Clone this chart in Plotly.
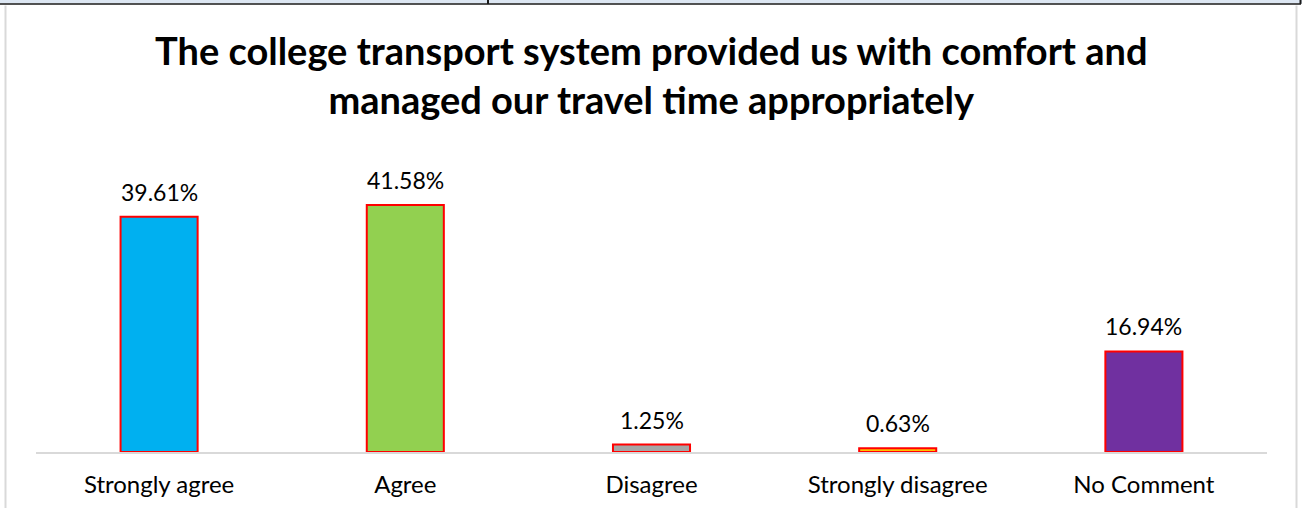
import plotly.graph_objects as go

categories = ["Strongly agree", "Agree", "Disagree", "Strongly disagree", "No Comment"]
values = [39.61, 41.58, 1.25, 0.63, 16.94]
labels = ["39.61%", "41.58%", "1.25%", "0.63%", "16.94%"]
colors = ["#00B0F0", "#92D050", "#A5A5A5", "#FFC000", "#7030A0"]
title_text = "<b>The college transport system provided us with comfort and<br>managed our travel time appropriately</b>"

W, H = 1302, 508
ML, MR, MT, MB = 36, 35, 155.4, 56
PW, PH = W - ML - MR, H - MT - MB

def px_x(p):
    return (p - ML) / PW

def px_y(p):
    return (H - MB - p) / PH

fig = go.Figure(go.Bar(
    x=categories, y=values,
    marker=dict(color=colors, line=dict(color="#FF0000", width=2)),
    cliponaxis=False,
    hoverinfo="skip",
))

shapes = [
    dict(type="rect", xref="paper", yref="paper", x0=px_x(0), x1=px_x(W), y0=px_y(4), y1=px_y(0),
         fillcolor="#DCE6F2", line=dict(width=0), layer="below"),
    dict(type="line", xref="paper", yref="paper", x0=px_x(0), x1=px_x(1301), y0=px_y(4.5), y1=px_y(4.5),
         line=dict(color="#1a1a1a", width=1.5)),
    dict(type="line", xref="paper", yref="paper", x0=px_x(488), x1=px_x(488), y0=px_y(0), y1=px_y(4.5),
         line=dict(color="#1a1a1a", width=2)),
    dict(type="line", xref="paper", yref="paper", x0=px_x(1300.5), x1=px_x(1300.5), y0=px_y(0), y1=px_y(4.5),
         line=dict(color="#1a1a1a", width=2)),
    dict(type="line", xref="paper", yref="paper", x0=px_x(5.5), x1=px_x(5.5), y0=px_y(6), y1=px_y(H),
         line=dict(color="#D9D9D9", width=2)),
    dict(type="line", xref="paper", yref="paper", x0=px_x(1296.5), x1=px_x(1296.5), y0=px_y(6), y1=px_y(H),
         line=dict(color="#D9D9D9", width=2)),
]

annotations = [dict(
    text=title_text, xref="paper", yref="paper",
    x=px_x(651.5), y=px_y(75), xanchor="center", yanchor="middle",
    showarrow=False, font=dict(family="Lato", size=38, color="#000000"),
)]
for c, v, t in zip(categories, values, labels):
    annotations.append(dict(
        x=c, y=v, xref="x", yref="y", text=t, showarrow=False,
        xanchor="center", yanchor="bottom", yshift=9,
        font=dict(family="Lato", size=23, color="#000000"),
    ))

fig.update_layout(
    width=W, height=H,
    margin=dict(l=ML, r=MR, t=MT, b=MB, autoexpand=False),
    paper_bgcolor="white", plot_bgcolor="white",
    bargap=0.687,
    showlegend=False,
    shapes=shapes,
    annotations=annotations,
    xaxis=dict(showline=True, linecolor="#D9D9D9", linewidth=2, ticks="", showgrid=False,
               ticklabelstandoff=10, automargin=False,
               tickfont=dict(family="Lato", size=24, color="#000000"), fixedrange=True),
    yaxis=dict(range=[0, 50], visible=False, showgrid=False, fixedrange=True, automargin=False),
)

fig.write_html("out.html", config={"displayModeBar": False},
               post_script="document.body.style.margin='0px';document.body.style.overflow='hidden';")
